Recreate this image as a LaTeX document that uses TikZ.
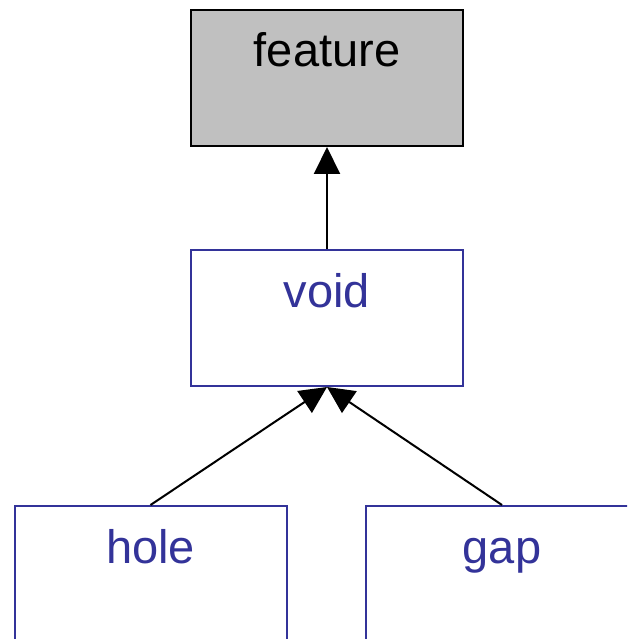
\documentclass[tikz,border=0pt]{standalone}
\usepackage{fontspec}
\setmainfont{Liberation Sans}
\usetikzlibrary{arrows.meta}
\definecolor{umlblue}{HTML}{333399}
\definecolor{umlgray}{HTML}{C0C0C0}
\tikzset{
  box/.style={draw=umlblue, line width=2pt, fill=white, rectangle, minimum width=272pt, minimum height=136pt, inner sep=0pt},
  graybox/.style={box, draw=black, fill=umlgray},
  lbl/.style={anchor=base, inner sep=0pt, font=\fontsize{47}{56}\selectfont, text=umlblue},
  conn/.style={draw=black, line width=2pt, -{Triangle[length=27pt, width=26pt]}}
}
\begin{document}
\begin{tikzpicture}[x=1pt, y=-1pt]
\useasboundingbox (0,0) rectangle (627,639);
\clip (0,0) rectangle (627,639);
\node[graybox] (feature) at (327,78) {};
\node[lbl, text=black] (featuret) at (327,67) {feature};
\node[box] (void) at (327,318) {};
\node[lbl] (voidt) at (327,307) {void};
\node[box] (hole) at (150.5,574) {};
\node[lbl] (holet) at (150.5,563) {hole};
\node[box] (gap) at (502,574) {};
\node[lbl] (gapt) at (502,563) {gap};
\draw[conn] (void.north) -- (feature.south);
\draw[conn] (hole.north) -- (void.south);
\draw[conn] (gap.north) -- (void.south);
\end{tikzpicture}
\end{document}
